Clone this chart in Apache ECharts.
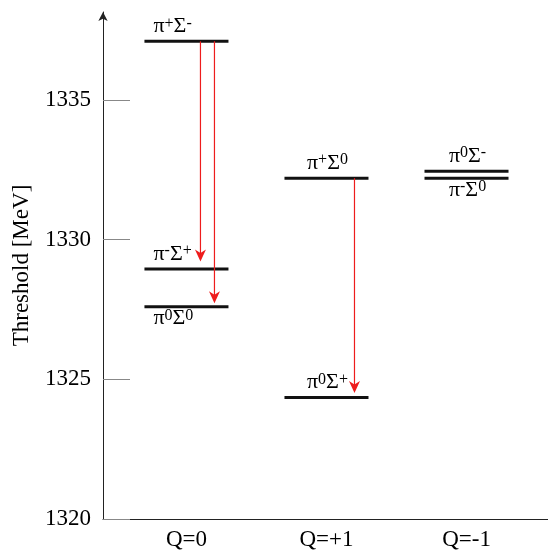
<!DOCTYPE html>
<html lang="en">
<head>
    <meta charset="UTF-8">
    <script src="https://cdn.jsdelivr.net/npm/echarts@6/dist/echarts.min.js"></script>
    <title>Thresholds</title>
    <style>
        *{ margin: 0; padding: 0; }
        #chart{ width: 548px; height: 550px; }
    </style>
</head>
<body>
    <div id="chart"></div>
<script>
    var categories = ['Q=0', 'Q=+1', 'Q=-1'];
    var yTicks = [1320, 1325, 1330, 1335];

    // thresholds: column (index in categories), energy, pion / sigma charge
    var levelQ = [0, 0, 0, 1, 1, 2, 2];
    var levelEnergy = [1337.1, 1328.95, 1327.6, 1332.2, 1324.35, 1332.45, 1332.2];
    var levelPion = ['+', '-', '0', '+', '0', '0', '-'];
    var levelSigma = ['-', '+', '0', '0', '+', '-', '0'];

    // transitions (index into the level arrays)
    var arrowFrom = [0, 0, 3];
    var arrowTo = [1, 2, 4];

    // layout only
    var labelSide = ['top', 'top', 'bottom', 'top', 'top', 'top', 'bottom'];
    var labelAlign = ['left', 'left', 'left', 'center', 'center', 'center', 'center'];
    var arrowDx = [0.1, 0.2, 0.2];
    var arrowGap = [7.5, 3.5, 4.5];

    var serif = '"Liberation Serif", "Times New Roman", serif';
    var rich = {
        b: { fontSize: 22, fontFamily: serif, fill: '#000', color: '#000' },
        s: { fontSize: 16, fontFamily: serif, fill: '#000', color: '#000', verticalAlign: 'top' }
    };

    var levelData = levelQ.map(function (q, i) {
        return [q, levelEnergy[i]];
    });
    var arrowData = arrowFrom.map(function (f, i) {
        return [levelQ[f], levelEnergy[f], levelEnergy[arrowTo[i]]];
    });

    function renderLevel(params, api) {
        var i = params.dataIndex;
        var q = api.value(0), e = api.value(1);
        var p0 = api.coord([q - 0.3, e]);
        var p1 = api.coord([q + 0.3, e]);
        var above = labelSide[i] === 'top';
        var tx = labelAlign[i] === 'left' ? p0[0] + 9 : (p0[0] + p1[0]) / 2 + 1;
        var txt = '{b|π}{s|' + levelPion[i] + '}{b|Σ}{s|' + levelSigma[i] + '}';
        return {
            type: 'group',
            children: [{
                type: 'line',
                shape: { x1: p0[0], y1: p0[1], x2: p1[0], y2: p1[1] },
                style: { stroke: '#111', lineWidth: 3 }
            }, {
                type: 'text',
                x: tx,
                y: above ? p0[1] - 4 : p0[1] + 1,
                style: {
                    text: txt,
                    rich: rich,
                    align: labelAlign[i],
                    verticalAlign: above ? 'bottom' : 'top'
                }
            }]
        };
    }

    function renderArrow(params, api) {
        var i = params.dataIndex;
        var q = api.value(0);
        var a = api.coord([q + arrowDx[i], api.value(1)]);
        var b = api.coord([q + arrowDx[i], api.value(2)]);
        var x = a[0], tip = b[1] - arrowGap[i];
        return {
            type: 'group',
            children: [{
                type: 'line',
                shape: { x1: x, y1: a[1], x2: x, y2: tip - 6 },
                style: { stroke: '#ee1c1c', lineWidth: 1.2 }
            }, {
                type: 'polygon',
                shape: { points: [[x - 5.5, tip - 12], [x, tip - 8.5], [x + 5.5, tip - 12], [x, tip]] },
                style: { fill: '#ee1c1c' }
            }]
        };
    }

    var chart = echarts.init(document.getElementById('chart'));
    chart.setOption({
        backgroundColor: '#fff',
        animation: false,
        grid: { left: 103, right: 0, top: 12, bottom: 31, outerBoundsMode: 'none' },
        xAxis: {
            type: 'value',
            min: -0.596,
            max: 2.582,
            axisLine: { show: true, onZero: false, lineStyle: { color: '#222', width: 1 } },
            axisTick: { show: false },
            splitLine: { show: false },
            axisLabel: {
                customValues: [0, 1, 2],
                formatter: function (v) { return categories[Math.round(v)]; },
                margin: 9,
                fontFamily: serif,
                fontSize: 23,
                color: '#000'
            }
        },
        yAxis: {
            type: 'value',
            min: 1320,
            max: 1338.15,
            name: 'Threshold [MeV]',
            nameLocation: 'middle',
            nameGap: 70,
            nameTextStyle: { fontFamily: serif, fontSize: 23, color: '#000' },
            axisLine: {
                show: true, onZero: false,
                lineStyle: { color: '#222', width: 1 },
                symbol: ['none', 'arrow'],
                symbolSize: [7, 9]
            },
            axisTick: { show: true, inside: true, length: 27, customValues: yTicks, lineStyle: { color: '#888' } },
            axisLabel: {
                customValues: yTicks,
                formatter: function (v) { return String(v); },
                margin: 12,
                fontFamily: serif,
                fontSize: 23,
                color: '#000'
            },
            splitLine: { show: false }
        },
        series: [{
            type: 'custom',
            renderItem: renderLevel,
            data: levelData,
            clip: false,
            silent: true
        }, {
            type: 'custom',
            renderItem: renderArrow,
            data: arrowData,
            clip: false,
            silent: true
        }]
    });
</script>
</body>
</html>
